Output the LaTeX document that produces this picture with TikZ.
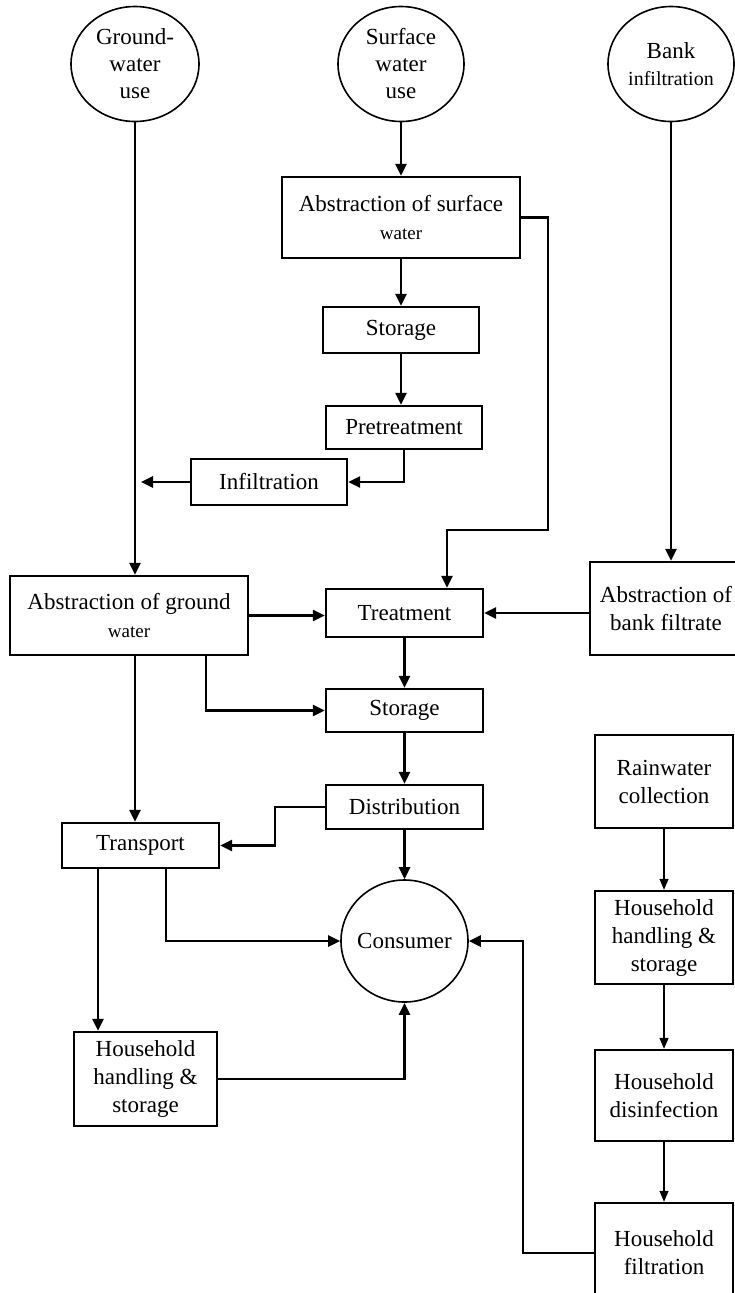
\documentclass[tikz,border=0pt]{standalone}
\usepackage{fontspec}
\setmainfont{Liberation Serif}
\usetikzlibrary{arrows.meta,shapes.geometric}

\begin{document}
\begin{tikzpicture}[x=1pt, y=-1pt,
    box/.style={draw, line width=2.4pt, align=center, inner sep=0pt,
      font=\fontsize{23}{28}\selectfont},
    src/.style={draw, ellipse, line width=1.6pt, align=center, inner sep=-8pt,
      font=\fontsize{23}{27}\selectfont},
    flow/.style={line width=2.6pt, -{Triangle[length=12pt,width=11pt]}},
    thinflow/.style={line width=1.4pt, -{Triangle[length=11pt,width=9pt]}}]
  \useasboundingbox (0,0) rectangle (735,1293);

  % Sources
  \node[src, minimum width=128pt, minimum height=115pt] (gwu) at (135,64) {Ground-\\water\\use};
  \node[src, minimum width=126pt, minimum height=115pt] (swu) at (401,64) {Surface\\water\\use};
  \node[src, minimum width=126pt, minimum height=115pt] (bank) at (671,64) {Bank\\{\fontsize{20}{24}\selectfont infiltration}};

  % Surface water line
  \node[box, minimum width=238pt, minimum height=81pt] (asw) at (401,217.5) {Abstraction of surface\\{\fontsize{19}{22}\selectfont water}};
  \node[box, minimum width=156pt, minimum height=46pt] (sto1) at (401,330) {Storage};
  \node[box, minimum width=156pt, minimum height=43pt] (pre) at (404,427.5) {Pretreatment};
  \node[box, minimum width=156pt, minimum height=46pt] (inf) at (269,482) {Infiltration};

  % Abstraction and treatment
  \node[box, minimum width=238pt, minimum height=79pt] (agw) at (129,615.5) {Abstraction of ground\\{\fontsize{19}{22}\selectfont water}};
  \node[box, minimum width=157pt, minimum height=48pt] (trt) at (404.5,613) {Treatment};
  \node[box, minimum width=152pt, minimum height=93pt] (abf) at (666,608.5) {Abstraction of\\bank filtrate};
  \node[box, minimum width=157pt, minimum height=43pt] (sto2) at (404.5,710.5) {Storage};
  \node[box, minimum width=157pt, minimum height=44pt] (dis) at (404.5,807) {Distribution};
  \node[box, minimum width=157pt, minimum height=45pt] (trn) at (140.5,845.5) {Transport};
  \node[src, minimum width=127pt, minimum height=122pt] (con) at (404.5,941) {Consumer};
  \node[box, minimum width=143pt, minimum height=94pt] (hh1) at (145.5,1079) {Household\\handling \&\\storage};

  % Rainwater line
  \node[box, minimum width=138pt, minimum height=93pt] (rain) at (664,781.5) {Rainwater\\collection};
  \node[box, minimum width=138pt, minimum height=93pt] (hh2) at (664,937.5) {Household\\handling \&\\storage};
  \node[box, minimum width=138pt, minimum height=91pt] (hh3) at (664,1095.5) {Household\\disinfection};
  \node[box, minimum width=138pt, minimum height=100pt] (hh4) at (664,1253) {Household\\filtration};

  \coordinate (bypass) at (548,530);

  % Connectors
  \draw[flow] (swu.south) -- (swu.south |- asw.north);
  \draw[flow] (asw.east) -| (bypass) -| ([xshift=42.5pt]trt.north);
  \draw[flow] (asw.south) -- (asw.south |- sto1.north);
  \draw[flow] (sto1.south) -- (sto1.south |- pre.north);
  \draw[flow] (pre.south) |- (inf.east);
  \draw[flow] (inf.west) -- ([xshift=6pt]gwu.south |- inf.west);
  \draw[flow] (gwu.south) -- (gwu.south |- agw.north);
  \draw[flow] (bank.south) -- (bank.south |- abf.north);
  \draw[flow] (agw.east) -- (agw.east -| trt.west);
  \draw[flow] (abf.west |- trt.east) -- (trt.east);
  \draw[flow] (trt.south) -- (sto2.north);
  \draw[flow] ([xshift=77pt]agw.south) |- (sto2.west);
  \draw[flow] (sto2.south) -- (dis.north);
  \draw[flow] (gwu.south |- agw.south) -- (gwu.south |- trn.north);
  \draw[flow] (dis.west) -- ++(-50,0) |- (trn.east);
  \draw[flow] (dis.south) -- (con.north);
  \draw[flow] ([xshift=25.5pt]trn.south) |- (con.west);
  \draw[flow] ([xshift=-42.5pt]trn.south) -- ([xshift=-42.5pt]trn.south |- hh1.north);
  \draw[flow] (hh1.east) -| (con.south);
  \draw[thinflow] (rain.south) -- (hh2.north);
  \draw[thinflow] (hh2.south) -- (hh3.north);
  \draw[thinflow] (hh3.south) -- (hh4.north);
  \draw[flow] (hh4.west) -- ++(-71,0) |- (con.east);
\end{tikzpicture}
\end{document}
